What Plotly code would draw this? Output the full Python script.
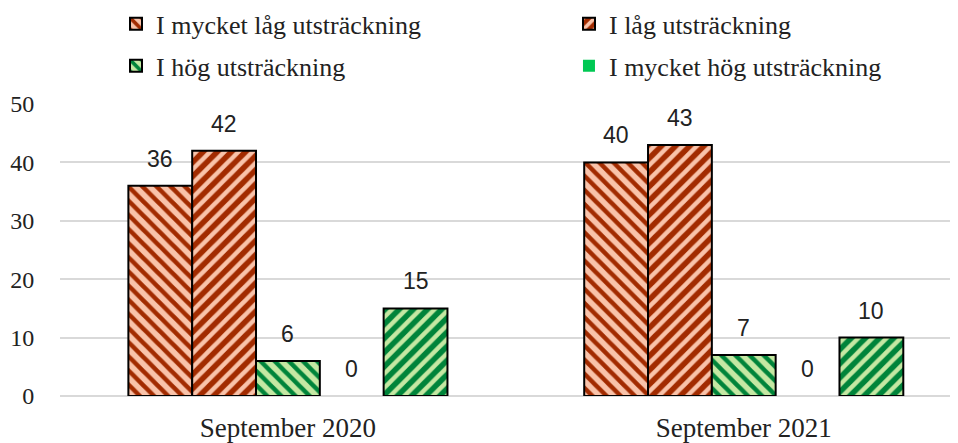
import plotly.graph_objects as go

categories = ["September 2020", "September 2021"]
series_names = ["I mycket låg utsträckning", "I låg utsträckning",
                "I hög utsträckning", "I mycket hög utsträckning", ""]
v_mycket_lag = [36, 40]
v_lag = [42, 43]
v_hog = [6, 7]
v_mycket_hog = [0, 0]
v_extra = [15, 10]
y_ticks = [0, 10, 20, 30, 40, 50]

values = [v_mycket_lag, v_lag, v_hog, v_mycket_hog, v_extra]
styles = [
    dict(shape="\\", bg="#F9C3AA", fg="#A22B00", legend="legend"),
    dict(shape="/", bg="#A22B00", fg="#F9C3AA", legend="legend2"),
    dict(shape="\\", bg="#C5E8A3", fg="#00843A", legend="legend3"),
    dict(shape="", bg="#00C853", fg="#00C853", legend="legend4"),
    dict(shape="/", bg="#00843A", fg="#C5E8A3", legend="legend"),
]

fig = go.Figure()
for i, (name, vals, st) in enumerate(zip(series_names, values, styles)):
    marker = dict(color=st["bg"], line=dict(color="black", width=2))
    if st["shape"]:
        marker["pattern"] = dict(shape=st["shape"], fgcolor=st["fg"], bgcolor=st["bg"],
                                 size=10, solidity=0.45, fillmode="replace")
    if i == 3:
        marker["line"] = dict(color="#00C853", width=0)
    fig.add_trace(go.Bar(
        x=categories, y=vals, name=name, marker=marker,
        showlegend=(i < 4), legend=st["legend"], cliponaxis=False,
    ))

# data labels
n = len(values)
bargap = 0.3
for i, vals in enumerate(values):
    offset = (-0.5 + (i + 0.5) / n) * (1 - bargap)
    for ci, v in enumerate(vals):
        fig.add_annotation(
            x=ci + offset, y=v, text=str(v), showarrow=False,
            yanchor="middle", yshift=27, xref="x", yref="y",
            font=dict(family="Liberation Sans, Arial", size=23, color="#222222"),
        )

legend_font = dict(family="Liberation Serif, Times New Roman", size=26, color="#222222")
def leg(x, y):
    return dict(orientation="h", x=x, xref="container", xanchor="left",
                y=y, yref="paper", yanchor="top", font=legend_font,
                bgcolor="rgba(0,0,0,0)", itemwidth=30)

fig.update_layout(
    width=950, height=435,
    margin=dict(l=52, r=0, t=96, b=47, autoexpand=False),
    plot_bgcolor="white", paper_bgcolor="white",
    barmode="group", bargap=bargap, bargroupgap=0,
    font=dict(family="Liberation Serif, Times New Roman", size=20, color="#222222"),
    legend=leg(0.1137, 1.355),
    legend2=leg(0.5905, 1.355),
    legend3=leg(0.1137, 1.211),
    legend4=leg(0.5905, 1.211),
    xaxis=dict(type="category", range=[-0.5, 1.47], showgrid=False, showline=False,
               ticks="outside", ticklen=8, tickcolor="rgba(0,0,0,0)",
               tickfont=dict(family="Liberation Serif", size=27, color="#222222")),
    yaxis=dict(range=[0, 50], tickvals=y_ticks, showgrid=True, gridcolor="#D9D9D9",
               gridwidth=2, zeroline=True, zerolinecolor="#D9D9D9", zerolinewidth=2,
               showline=False, ticks="outside", ticklen=20, tickcolor="rgba(0,0,0,0)",
               tickfont=dict(family="Liberation Serif", size=24, color="#222222")),
)

fig.write_html("out.html")
